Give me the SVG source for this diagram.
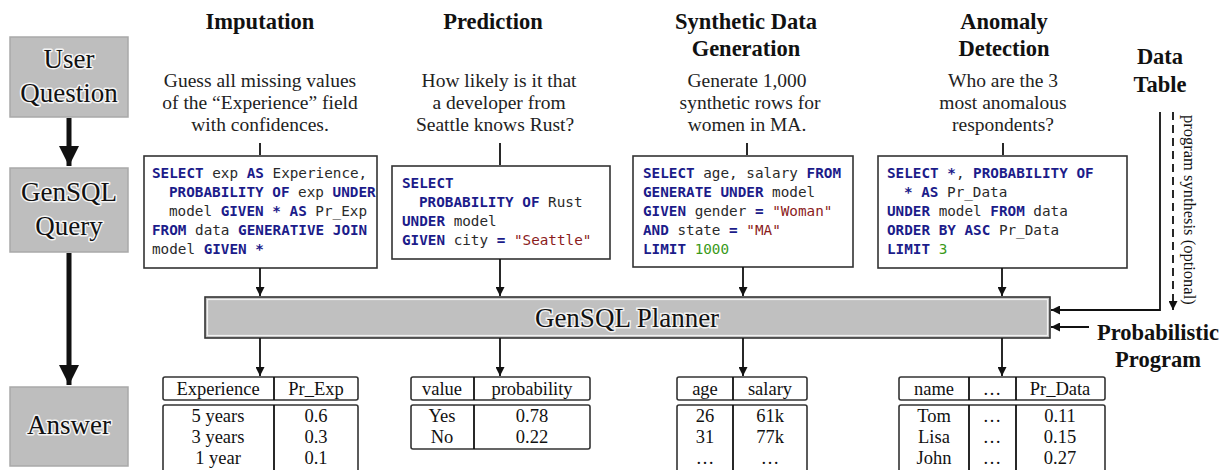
<svg xmlns="http://www.w3.org/2000/svg" width="1230" height="470" viewBox="0 0 1230 470">
<defs>
<marker id="ah" viewBox="0 0 10 10" refX="10" refY="5" markerWidth="9" markerHeight="9" markerUnits="userSpaceOnUse" orient="auto">
<path d="M0,0 L10,5 L0,10 z" fill="#111"/>
</marker>
<marker id="ahb" viewBox="0 0 10 10" refX="10" refY="5" markerWidth="5" markerHeight="4" orient="auto">
<path d="M0,0 L10,5 L0,10 z" fill="#111"/>
</marker>
<style>
.side{fill:#bebebe;stroke:#a9a9a9;stroke-width:1.5}
.sidet{font-family:"Liberation Serif",serif;font-size:27px;fill:#111;text-anchor:middle;stroke:#fff;stroke-width:3;stroke-opacity:0.85;paint-order:stroke;stroke-linejoin:round}
.hd{font-family:"Liberation Serif",serif;font-size:22.5px;font-weight:bold;fill:#111;text-anchor:middle}
.q{font-family:"Liberation Serif",serif;font-size:19.5px;fill:#222;text-anchor:middle}
.box{fill:#fff;stroke:#333;stroke-width:1.6}
.code{font-family:"DejaVu Sans Mono",monospace;font-size:14.3px;fill:#2a2a2a}
.k{fill:#1c1c8a;font-weight:bold}
.s{fill:#8b1c1c}
.n{fill:#3a9a1a}
.ln{stroke:#111;stroke-width:1.8;fill:none}
.tb{fill:#fff;stroke:#333;stroke-width:1.6}
.tt{font-family:"Liberation Serif",serif;font-size:18.5px;fill:#111;text-anchor:middle}
.plan{fill:#c0c0c0;stroke:#333;stroke-width:1.6}
</style>
</defs>

<g id="user-question">
<rect class="side" x="10" y="37" width="118" height="80"/>
<text class="sidet" x="69" y="68">User</text>
<text class="sidet" x="69" y="102">Question</text>
</g>
<g id="gensql-query">
<rect class="side" x="10" y="168" width="118" height="84"/>
<text class="sidet" x="69" y="201">GenSQL</text>
<text class="sidet" x="69" y="235">Query</text>
</g>
<g id="answer">
<rect class="side" x="10" y="387" width="118" height="79"/>
<text class="sidet" x="69" y="434">Answer</text>
</g>

<g id="imputation">
<text class="hd" x="260" y="29">Imputation</text>
<text class="q" x="260" y="87">Guess all missing values</text>
<text class="q" x="260" y="109">of the “Experience” field</text>
<text class="q" x="260" y="131">with confidences.</text>
<rect class="box" x="144" y="156" width="233" height="112"/>
<text class="code" x="152" y="178"><tspan class="k">SELECT</tspan> exp <tspan class="k">AS</tspan> Experience,</text>
<text class="code" x="169" y="197"><tspan class="k">PROBABILITY OF</tspan> exp <tspan class="k">UNDER</tspan></text>
<text class="code" x="169" y="216">model <tspan class="k">GIVEN *</tspan> <tspan class="k">AS</tspan> Pr_Exp</text>
<text class="code" x="152" y="235"><tspan class="k">FROM</tspan> data <tspan class="k">GENERATIVE JOIN</tspan></text>
<text class="code" x="152" y="254">model <tspan class="k">GIVEN *</tspan></text>
</g>

<g id="prediction">
<text class="hd" x="493" y="29">Prediction</text>
<text class="q" x="499" y="87">How likely is it that</text>
<text class="q" x="499" y="109">a developer from</text>
<text class="q" x="495" y="131">Seattle knows Rust?</text>
<rect class="box" x="392" y="166" width="218" height="93"/>
<text class="code" x="402" y="188"><tspan class="k">SELECT</tspan></text>
<text class="code" x="419" y="207"><tspan class="k">PROBABILITY OF</tspan> Rust</text>
<text class="code" x="402" y="226"><tspan class="k">UNDER</tspan> model</text>
<text class="code" x="402" y="245"><tspan class="k">GIVEN</tspan> city <tspan class="k">=</tspan> <tspan class="s">"Seattle"</tspan></text>
</g>

<g id="synthetic">
<text class="hd" x="746" y="29">Synthetic Data</text>
<text class="hd" x="746" y="56">Generation</text>
<text class="q" x="747" y="87">Generate 1,000</text>
<text class="q" x="750" y="109">synthetic rows for</text>
<text class="q" x="747" y="131">women in MA.</text>
<rect class="box" x="633" y="156" width="220" height="111"/>
<text class="code" x="643" y="178"><tspan class="k">SELECT</tspan> age, salary <tspan class="k">FROM</tspan></text>
<text class="code" x="643" y="197"><tspan class="k">GENERATE UNDER</tspan> model</text>
<text class="code" x="643" y="216"><tspan class="k">GIVEN</tspan> gender <tspan class="k">=</tspan> <tspan class="s">"Woman"</tspan></text>
<text class="code" x="643" y="235"><tspan class="k">AND</tspan> state <tspan class="k">=</tspan> <tspan class="s">"MA"</tspan></text>
<text class="code" x="643" y="254"><tspan class="k">LIMIT</tspan> <tspan class="n">1000</tspan></text>
</g>

<g id="anomaly">
<text class="hd" x="1004" y="29">Anomaly</text>
<text class="hd" x="1004" y="56">Detection</text>
<text class="q" x="1003" y="87">Who are the 3</text>
<text class="q" x="1003" y="109">most anomalous</text>
<text class="q" x="1003" y="131">respondents?</text>
<rect class="box" x="878" y="156" width="249" height="112"/>
<text class="code" x="887" y="178"><tspan class="k">SELECT *</tspan>, <tspan class="k">PROBABILITY OF</tspan></text>
<text class="code" x="904" y="197"><tspan class="k">* AS</tspan> Pr_Data</text>
<text class="code" x="887" y="216"><tspan class="k">UNDER</tspan> model <tspan class="k">FROM</tspan> data</text>
<text class="code" x="887" y="235"><tspan class="k">ORDER BY ASC</tspan> Pr_Data</text>
<text class="code" x="887" y="254"><tspan class="k">LIMIT</tspan> <tspan class="n">3</tspan></text>
</g>

<g id="data-table">
<text class="hd" x="1160" y="64">Data</text>
<text class="hd" x="1160" y="92">Table</text>
<text font-family="'Liberation Serif',serif" font-size="16.5px" fill="#111" transform="translate(1184,115) rotate(90)">program synthesis (optional)</text>
</g>

<g id="probabilistic-program">
<text class="hd" x="1158" y="340">Probabilistic</text>
<text class="hd" x="1158" y="367">Program</text>
</g>

<g id="planner">
<rect class="plan" x="205" y="297" width="845" height="41"/>
<rect x="207.5" y="299.5" width="840" height="36" fill="none" stroke="#f2f2f2" stroke-width="1.2"/>
<text x="627" y="327" font-family="'Liberation Serif',serif" font-size="27px" fill="#111" text-anchor="middle" stroke="#fff" stroke-width="3" stroke-opacity="0.8" paint-order="stroke">GenSQL Planner</text>
</g>

<g id="table-imputation">
<rect class="tb" x="163" y="377" width="195" height="23" rx="2"/>
<line class="ln" x1="274" y1="377" x2="274" y2="400"/>
<text class="tt" x="218" y="395">Experience</text>
<text class="tt" x="316" y="395">Pr_Exp</text>
<rect class="tb" x="163" y="405" width="195" height="80" rx="2"/>
<line class="ln" x1="274" y1="405" x2="274" y2="470"/>
<text class="tt" x="218" y="422">5 years</text>
<text class="tt" x="316" y="422">0.6</text>
<text class="tt" x="218" y="443">3 years</text>
<text class="tt" x="316" y="443">0.3</text>
<text class="tt" x="218" y="464">1 year</text>
<text class="tt" x="316" y="464">0.1</text>
</g>

<g id="table-prediction">
<rect class="tb" x="411" y="377" width="179" height="23" rx="2"/>
<line class="ln" x1="474" y1="377" x2="474" y2="400"/>
<text class="tt" x="442" y="395">value</text>
<text class="tt" x="532" y="395">probability</text>
<rect class="tb" x="411" y="405" width="179" height="44" rx="2"/>
<line class="ln" x1="474" y1="405" x2="474" y2="449"/>
<text class="tt" x="442" y="422">Yes</text>
<text class="tt" x="532" y="422">0.78</text>
<text class="tt" x="442" y="443">No</text>
<text class="tt" x="532" y="443">0.22</text>
</g>

<g id="table-synthetic">
<rect class="tb" x="677" y="377" width="130" height="23" rx="2"/>
<line class="ln" x1="733" y1="377" x2="733" y2="400"/>
<text class="tt" x="705" y="395">age</text>
<text class="tt" x="770" y="395">salary</text>
<rect class="tb" x="677" y="405" width="130" height="80" rx="2"/>
<line class="ln" x1="733" y1="405" x2="733" y2="470"/>
<text class="tt" x="705" y="422">26</text>
<text class="tt" x="770" y="422">61k</text>
<text class="tt" x="705" y="443">31</text>
<text class="tt" x="770" y="443">77k</text>
<text class="tt" x="705" y="464">…</text>
<text class="tt" x="770" y="464">…</text>
</g>

<g id="table-anomaly">
<rect class="tb" x="899" y="377" width="206" height="23" rx="2"/>
<line class="ln" x1="969" y1="377" x2="969" y2="400"/>
<line class="ln" x1="1016" y1="377" x2="1016" y2="400"/>
<text class="tt" x="934" y="395">name</text>
<text class="tt" x="992" y="395">…</text>
<text class="tt" x="1060" y="395">Pr_Data</text>
<rect class="tb" x="899" y="405" width="206" height="80" rx="2"/>
<line class="ln" x1="969" y1="405" x2="969" y2="470"/>
<line class="ln" x1="1016" y1="405" x2="1016" y2="470"/>
<text class="tt" x="934" y="422">Tom</text>
<text class="tt" x="992" y="422">…</text>
<text class="tt" x="1060" y="422">0.11</text>
<text class="tt" x="934" y="443">Lisa</text>
<text class="tt" x="992" y="443">…</text>
<text class="tt" x="1060" y="443">0.15</text>
<text class="tt" x="934" y="464">John</text>
<text class="tt" x="992" y="464">…</text>
<text class="tt" x="1060" y="464">0.27</text>
</g>

<g id="connectors">
<line x1="69" y1="118" x2="69" y2="166" stroke="#111" stroke-width="5" marker-end="url(#ahb)"/>
<line x1="69" y1="253" x2="69" y2="385" stroke="#111" stroke-width="5" marker-end="url(#ahb)"/>
<line class="ln" x1="260" y1="143" x2="260" y2="155"/>
<line class="ln" x1="500" y1="143" x2="500" y2="165"/>
<line class="ln" x1="747" y1="143" x2="747" y2="155"/>
<line class="ln" x1="1003" y1="143" x2="1003" y2="155"/>
<line class="ln" x1="260" y1="268" x2="260" y2="296" marker-end="url(#ah)"/>
<line class="ln" x1="500" y1="259" x2="500" y2="296" marker-end="url(#ah)"/>
<line class="ln" x1="743" y1="267" x2="743" y2="296" marker-end="url(#ah)"/>
<line class="ln" x1="1002" y1="268" x2="1002" y2="296" marker-end="url(#ah)"/>
<line class="ln" x1="260" y1="338" x2="260" y2="376" marker-end="url(#ah)"/>
<line class="ln" x1="500" y1="338" x2="500" y2="376" marker-end="url(#ah)"/>
<line class="ln" x1="743" y1="338" x2="743" y2="376" marker-end="url(#ah)"/>
<line class="ln" x1="1002" y1="338" x2="1002" y2="376" marker-end="url(#ah)"/>
<polyline class="ln" points="1160,112 1160,310 1051,310" marker-end="url(#ah)"/>
<line class="ln" x1="1173" y1="112" x2="1173" y2="310" stroke-dasharray="8,5" marker-end="url(#ah)"/>
<line class="ln" x1="1089" y1="327" x2="1051" y2="327" marker-end="url(#ah)"/>
</g>
</svg>
